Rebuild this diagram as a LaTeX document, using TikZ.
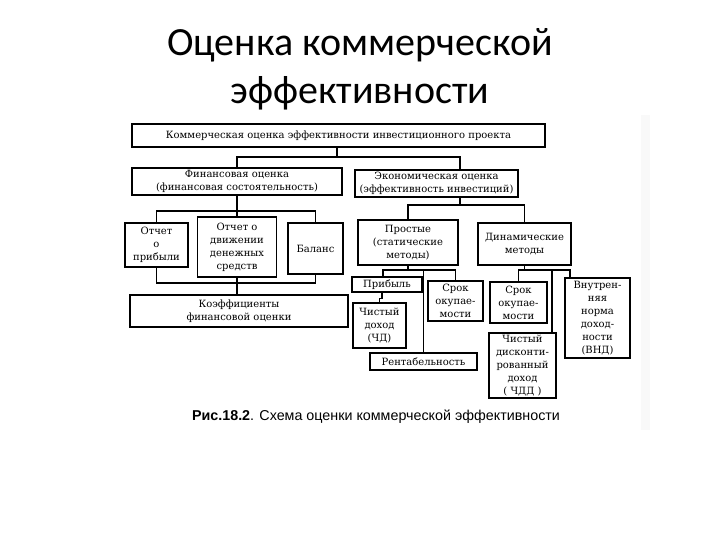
\documentclass[tikz,border=0pt]{standalone}
\usepackage{fontspec}
\setmainfont{DejaVu Serif}
\newfontfamily\titlefont{Carlito}
\newfontfamily\capfont{Liberation Sans}
\begin{document}
\begin{tikzpicture}[x=1pt, y=-1pt, line width=1.1pt,
	box/.style={draw, line width=1.2pt, align=center, inner sep=0pt, font=\fontsize{10}{13}\selectfont},
	conn/.style={line width=1.1pt}]
	\useasboundingbox (0,0) rectangle (720,540);
	
	% заголовок слайда
	\node[font=\titlefont\fontsize{40}{48}\selectfont, align=center] (title) at (360,69) {Оценка коммерческой\\эффективности};
	
	% полоса скана справа
	\fill[gray!5] (641,115) rectangle (650,430);
	
	% верхний уровень
	\node[box, minimum width=413, minimum height=23] (top) at (338.5,135.5) {Коммерческая оценка эффективности инвестиционного проекта};
	\node[box, minimum width=210, minimum height=27] (fin) at (237,181.5) {Финансовая оценка\\(финансовая состоятельность)};
	\node[box, minimum width=163, minimum height=27] (econ) at (436.5,183.5) {Экономическая оценка\\(эффективность инвестиций)};
	
	% финансовая ветвь
	\node[box, minimum width=63, minimum height=44] (prof) at (156.5,245) {Отчет\\о\\прибыли};
	\node[box, minimum width=79, minimum height=60] (cash) at (237,247) {Отчет о\\движении\\денежных\\средств};
	\node[box, minimum width=55, minimum height=51] (bal) at (315.5,248.5) {Баланс};
	\node[box, minimum width=218, minimum height=32] (coef) at (239,311) {Коэффициенты\\финансовой оценки};
	
	% экономическая ветвь
	\node[box, minimum width=100, minimum height=45] (simple) at (408,242.5) {Простые\\(статические\\методы)};
	\node[box, minimum width=93, minimum height=42] (dyn) at (524.5,244) {Динамические\\методы};
	\node[box, minimum width=70, minimum height=15] (pr) at (387,284.5) {Прибыль};
	\node[box, minimum width=55, minimum height=40] (pay1) at (455.5,301) {Срок\\окупае-\\мости};
	\node[box, minimum width=53, minimum height=45] (nd) at (379.5,325.5) {Чистый\\доход\\(ЧД)};
	\node[box, minimum width=107, minimum height=17] (rent) at (423.5,361.5) {Рентабельность};
	\node[box, minimum width=57, minimum height=41] (pay2) at (518.5,302.5) {Срок\\окупае-\\мости};
	\node[box, minimum width=67, minimum height=65] (ndd) at (522.5,365.5) {Чистый\\дисконти-\\рованный\\доход\\( ЧДД )};
	\node[box, minimum width=65, minimum height=80] (irr) at (597.5,318) {Внутрен-\\няя\\норма\\доход-\\ности\\(ВНД)};
	
	% шины
	\coordinate (tbus) at (337,157);
	\coordinate (fbus) at (237,211);
	\coordinate (cbus) at (237,283);
	\coordinate (ebus) at (460,205);
	\coordinate (sbus) at (408,270);
	\coordinate (dbus) at (524.5,270);
	\coordinate (econbot) at ([xshift=23.5pt]econ.south);
	\coordinate (econtop) at ([xshift=23.5pt]econ.north);
	\coordinate (prtop) at ([xshift=-4pt]pr.north);
	\coordinate (prbot) at ([xshift=-5pt]pr.south);
	\coordinate (nddtop) at ([xshift=29.5pt]ndd.north);
	\coordinate (irrtop) at ([xshift=-27.5pt]irr.north);
	
	% связи
	\draw[conn] (top.south -| tbus) -- (tbus);
	\draw[conn] (fin.north) |- (tbus) -| (econtop);
	\draw[conn] (fin.south) -- (cash.north);
	\draw[conn] (prof.north) |- (fbus) -| (bal.north);
	\draw[conn] (prof.south) |- (cbus) -| (bal.south);
	\draw[conn] (cash.south) -- (cash.south |- coef.north);
	\draw[conn] (econbot) -- (ebus);
	\draw[conn] (simple.north) |- (ebus) -| (dyn.north);
	\draw[conn] (simple.south) -- (sbus);
	\draw[conn] (prtop) |- (sbus) -| (pay1.north);
	\draw[conn] (rent.north) -- (rent.north |- sbus);
	\draw[conn] (prbot) -- ++(0,6) -| (nd.north);
	\draw[conn] (dyn.south) -- (dbus);
	\draw[conn] (pay2.north) |- (dbus) -| (irrtop);
	\draw[conn] (nddtop) -- (nddtop |- dbus);
	
	% подпись
	\node[font=\capfont\fontsize{14.3}{17}\selectfont] (caption) at (376,417) {\textbf{Рис.18.2}. Схема оценки коммерческой эффективности};
\end{tikzpicture}
\end{document}
